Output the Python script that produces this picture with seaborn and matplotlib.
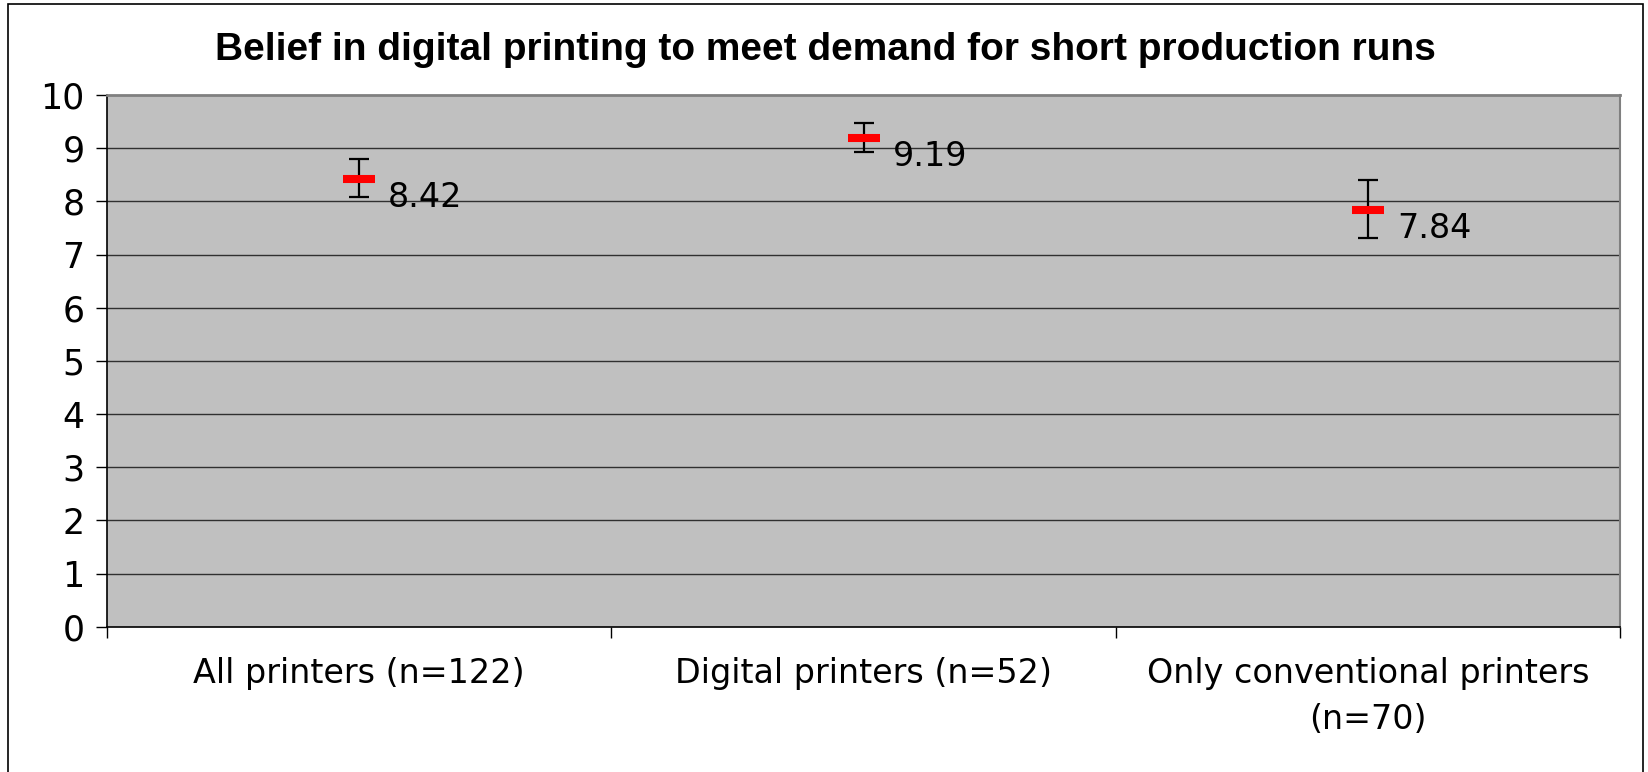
import numpy as np
import pandas as pd
import matplotlib
matplotlib.use("Agg")
import matplotlib.pyplot as plt
import seaborn as sns
from matplotlib.patches import Rectangle

# ── Data ──
groups = ["All printers (n=122)", "Digital printers (n=52)",
          "Only conventional printers\n(n=70)"]
means = [8.42, 9.19, 7.84]
err_low = [8.09, 8.92, 7.32]
err_high = [8.80, 9.48, 8.40]
y_ticks = list(range(0, 11))

df = pd.DataFrame({"group": groups, "mean": means,
                   "low": err_low, "high": err_high})
df["x"] = np.arange(len(df))

# ── Plot ──
sns.set_theme(style="white")
plt.rcParams["font.family"] = ["DejaVu Sans"]
plt.rcParams["text.color"] = "black"
plt.rcParams["xtick.color"] = "black"
plt.rcParams["ytick.color"] = "black"

fig = plt.figure(figsize=(16.48, 7.72), dpi=100)
ax = fig.add_axes([0.0649, 0.188, 0.9183, 0.689])
ax.set_facecolor("#C0C0C0")

for yv in y_ticks[1:-1]:
    ax.axhline(yv, color="#303030", linewidth=1.0, zorder=1)

yerr = np.vstack([df["mean"] - df["low"], df["high"] - df["mean"]])
ax.errorbar(df["x"], df["mean"], yerr=yerr, fmt="none", ecolor="black",
            elinewidth=1.6, capsize=7.2, capthick=1.6, zorder=3)
sns.scatterplot(data=df, x="x", y="mean", marker="_", s=520, color="red",
                linewidth=5.8, ax=ax, zorder=4, legend=False)

for _, row in df.iterrows():
    ax.annotate(f"{row['mean']:.2f}", (row["x"], row["mean"]),
                xytext=(29, -2), textcoords="offset pixels",
                ha="left", va="top", fontsize=24, color="black", zorder=5)

ax.set_xlim(-0.5, len(df) - 0.5)
ax.set_ylim(0, 10)
ax.set_yticks(y_ticks)
ax.set_yticklabels([str(v) for v in y_ticks], fontsize=25)
ax.set_xticks(df["x"])
ax.set_xticklabels(df["group"], fontsize=24, linespacing=1.5)
ax.set_xticks(np.arange(-0.5, len(df)), minor=True)
ax.tick_params(axis="x", which="major", length=0, pad=22)
ax.tick_params(axis="x", which="minor", length=8, width=1, color="black",
               direction="out", bottom=True)
ax.tick_params(axis="y", length=8, width=1, color="black", direction="out",
               left=True, pad=8)
ax.set_xlabel("")
ax.set_ylabel("")

ax.spines["left"].set_color("black")
ax.spines["bottom"].set_color("black")
ax.spines["left"].set_linewidth(1.2)
ax.spines["bottom"].set_linewidth(1.2)
ax.spines["top"].set_color("#808080")
ax.spines["right"].set_color("#808080")
ax.spines["top"].set_linewidth(2.0)
ax.spines["right"].set_linewidth(1.5)

fig.text(0.5006, 0.935,
         "Belief in digital printing to meet demand for short production runs",
         ha="center", va="center", fontsize=28, fontweight="bold",
         color="black", family=["Liberation Sans", "DejaVu Sans"])

fig.add_artist(Rectangle((0.0049, -0.01), 0.992, 1.0048,
                         transform=fig.transFigure, fill=False,
                         edgecolor="black", linewidth=1.2, clip_on=False))

fig.savefig("out.png", dpi=100)
